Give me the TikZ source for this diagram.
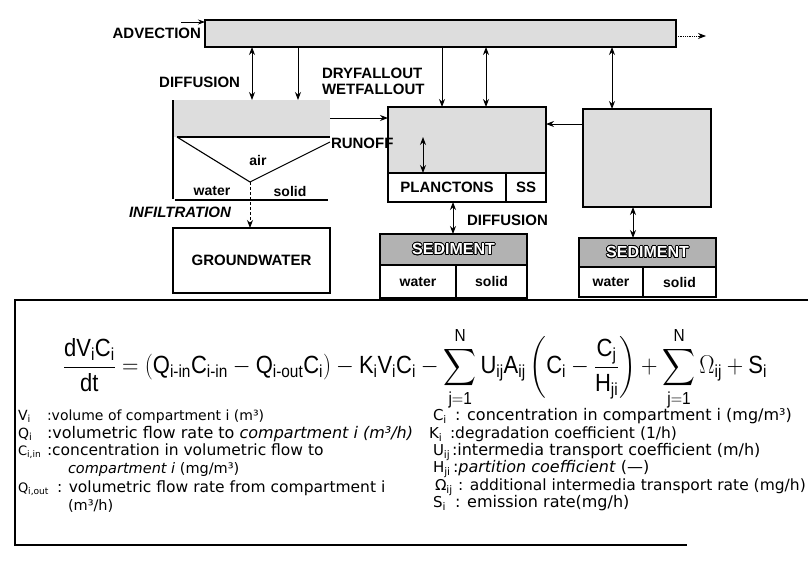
\documentclass[tikz,border=0pt]{standalone}
\usepackage{amsmath}
\usepackage{graphicx}
\usepackage{fontspec}
\setmainfont{Liberation Sans}
\setsansfont{Liberation Sans}
\newfontfamily\legfont{DejaVu Sans}
\usepackage{contour}
\contourlength{0.8pt}
\usetikzlibrary{arrows.meta}
\newcommand\ms[1]{\mathsf{#1}}
\newcommand\lf[1]{\fontsize{#1}{17}\selectfont\legfont}
\begin{document}
\begin{tikzpicture}[x=1pt,y=-1pt,
  every node/.style={inner sep=0pt, outer sep=0pt},
  lab/.style={font=\fontsize{15}{17}\selectfont\bfseries},
  labsm/.style={font=\fontsize{14}{16}\selectfont\bfseries},
  cell/.style={draw, line width=1.1pt, anchor=north west, font=\fontsize{15}{17}\selectfont\bfseries},
  cellsm/.style={cell, font=\fontsize{14}{16}\selectfont\bfseries},
  grayfill/.style={draw, line width=1.1pt, anchor=north west, fill=gray!27},
  sedfill/.style={draw, line width=1.1pt, anchor=north west, fill=gray!60, font=\fontsize{16}{18}\selectfont\bfseries},
  arr/.style={line width=1pt, -{Stealth[length=8pt,width=6pt]}},
  darr/.style={line width=1pt, {Stealth[length=8pt,width=6pt]}-{Stealth[length=8pt,width=6pt]}},
  lg/.style={anchor=base west}
]
\useasboundingbox[fill=white] (0,0) rectangle (809,563);

% ---- compartments ----
\node[grayfill, minimum width=471pt, minimum height=27pt] (air) at (205,20) {};
\node[anchor=north west, fill=gray!27, minimum width=157pt, minimum height=37pt] (land) at (173,100) {};
\node[grayfill, minimum width=158pt, minimum height=66pt] (mid) at (388,107) {};
\node[cell, minimum width=118pt, minimum height=29pt] (plan) at (388,173) {PLANCTONS};
\node[cell, minimum width=40pt, minimum height=29pt] (ss) at (506,173) {SS};
\node[grayfill, minimum width=128pt, minimum height=98pt] (right) at (583,109) {};
\node[cell, minimum width=157pt, minimum height=65pt] (gw) at (173,228) {GROUNDWATER};

\node[sedfill, minimum width=147pt, minimum height=31pt] (sed1) at (380,234) {\color{white}\contour{black}{SEDIMENT}};
\node[cellsm, minimum width=76pt, minimum height=33pt] (w1) at (380,265) {water};
\node[cellsm, minimum width=71pt, minimum height=33pt] (s1) at (456,265) {solid};
\node[sedfill, minimum width=137pt, minimum height=29pt] (sed2) at (579,238) {\color{white}\contour{black}{SEDIMENT}};
\node[cellsm, minimum width=64pt, minimum height=30pt] (w2) at (579,267) {water};
\node[cellsm, minimum width=73pt, minimum height=30pt] (s2) at (643,267) {solid};

% ---- land (soil) details ----
\coordinate (lwtop) at (173,100);
\coordinate (lwbot) at (173,199);
\draw[line width=1.1pt] (lwtop) -- (lwbot);
\coordinate (vl) at (177,137);
\coordinate (vr) at (330,137);
\coordinate (vrr) at (330,142);
\coordinate (vtip) at (250,182);
\draw[line width=1.1pt] (vl) -- (vr);
\draw[line width=1.1pt] (vl) -- (vtip) -- (vrr);
\coordinate (gl) at (175,200);
\coordinate (gr) at (328,200);
\draw[line width=1.1pt] (gl) -- (gr);
\node[labsm] (airlab) at (258,160) {air};
\node[labsm] (lwater) at (212,191) {water};
\node[labsm] (lsolid) at (290,191) {solid};
\draw[arr, densely dashed] (vtip) -- (gw.north -| vtip);

% ---- arrows ----
\coordinate (d1) at (252,0);
\coordinate (d2) at (298,0);
\coordinate (d3) at (442,0);
\coordinate (d4) at (486,0);
\coordinate (d5) at (612,0);
\draw[darr] (air.south -| d1) -- (land.north -| d1);
\draw[arr] (air.south -| d2) -- (land.north -| d2);
\draw[arr] (air.south -| d3) -- (mid.north -| d3);
\draw[darr] (air.south -| d4) -- (mid.north -| d4);
\draw[darr] (air.south -| d5) -- (right.north -| d5);

\coordinate (r1) at (0,118);
\draw[arr] (land.east |- r1) -- (mid.west |- r1);
\coordinate (r2) at (0,124);
\draw[arr] (right.west |- r2) -- (mid.east |- r2);

\coordinate (p1top) at (423,137);
\draw[darr] (p1top) -- (plan.north -| p1top);
\coordinate (sx1) at (453,0);
\draw[darr] (plan.south -| sx1) -- (sed1.north -| sx1);
\coordinate (sx2) at (633,0);
\draw[darr] (right.south -| sx2) -- (sed2.north -| sx2);

\coordinate (advA) at (181,22);
\draw[line width=0.8pt, -{Stealth[length=7pt,width=5pt]}] (advA) -- (air.west |- advA);
\coordinate (advB) at (706,36);
\draw[line width=0.8pt, densely dotted, -{Stealth[length=8pt,width=6pt]}] (air.east |- advB) -- (advB);

% ---- labels ----
\node[lab, anchor=east] (advlab) at (201,33) {ADVECTION};
\node[lab, anchor=east] (difflab) at (240,82) {DIFFUSION};
\node[lab, anchor=west] (dry) at (322,73) {DRYFALLOUT};
\node[lab, anchor=west] (wet) at (322,89) {WETFALLOUT};
\node[lab, anchor=west] (runoff) at (331,143) {RUNOFF};
\node[lab, font=\fontsize{15}{17}\selectfont\bfseries\itshape] (infil) at (180,212) {INFILTRATION};
\node[lab, anchor=west] (diff2) at (467,220) {DIFFUSION};

% ---- equation frame ----
\coordinate (fa) at (808,300);
\coordinate (fb) at (15,300);
\coordinate (fc) at (15,545);
\coordinate (fd) at (687,545);
\draw[line width=2pt] (fa) -- (fb) -- (fc) -- (fd);

\node (eq) at (415,369) {\scalebox{1}[1.13]{\resizebox{704pt}{!}{\fontsize{24}{28}\selectfont$\displaystyle
 \frac{\ms{dV_iC_i}}{\ms{dt}} = (\ms{Q_{i\text{-}in}C_{i\text{-}in}} - \ms{Q_{i\text{-}out}C_i}) - \ms{K_iV_iC_i}
 - \sum_{\ms{j=1}}^{\ms{N}} \ms{U_{ij}A_{ij}}\left(\ms{C_i} - \frac{\ms{C_j}}{\ms{H_{ji}}}\right)
 + \sum_{\ms{j=1}}^{\ms{N}} \Omega_{\ms{ij}} + \ms{S_i}$}}};

% ---- legend left ----
\node[lg, font=\lf{14}] (vs) at (18,420) {V\textsubscript{i}};
\node[lg, font=\lf{14}] (vt) at (47,420) {:volume of compartment i (m³)};
\node[lg, font=\lf{14}] (qs) at (18,438) {Q\textsubscript{i}};
\node[lg, font=\lf{16}] (qt) at (47,438) {:volumetric flow rate to \textit{compartment i (m³/h)}};
\node[lg, font=\lf{13}] (cs) at (18,455) {C\textsubscript{i,in}};
\node[lg, font=\lf{15.5}] (ct) at (47,455) {:concentration in volumetric flow to};
\node[lg, font=\lf{14.5}] (ct2) at (68,473) {\textit{compartment i} (mg/m³)};
\node[lg, font=\lf{13}] (qos) at (18,492) {Q\textsubscript{i,out}};
\node[lg, font=\lf{15.5}] (qot) at (57,492) {: volumetric flow rate from compartment i};
\node[lg, font=\lf{14.5}] (qot2) at (68,510) {(m³/h)};

% ---- legend right ----
\node[lg, font=\lf{15}] (cis) at (433,420) {C\textsubscript{i}};
\node[lg, font=\lf{16}] (cit) at (455,420) {: concentration in compartment i (mg/m³)};
\node[lg, font=\lf{15}] (kis) at (429,438) {K\textsubscript{i}};
\node[lg, font=\lf{15.5}] (kit) at (450,438) {:degradation coefficient (1/h)};
\node[lg, font=\lf{15}] (uis) at (433,455) {U\textsubscript{ij}};
\node[lg, font=\lf{16}] (uit) at (452,455) {:intermedia transport coefficient (m/h)};
\node[lg, font=\lf{15}] (his) at (433,472) {H\textsubscript{ji}};
\node[lg, font=\lf{16}] (hit) at (453,472) {:\textit{partition coefficient} (—)};
\node[lg, font=\lf{15}] (ois) at (435,490) {Ω\textsubscript{ij}};
\node[lg, font=\lf{15.5}] (oit) at (458,490) {: additional intermedia transport rate (mg/h)};
\node[lg, font=\lf{15}] (sis) at (433,507) {S\textsubscript{i}};
\node[lg, font=\lf{16}] (sit) at (455,507) {: emission rate(mg/h)};
\end{tikzpicture}
\end{document}
